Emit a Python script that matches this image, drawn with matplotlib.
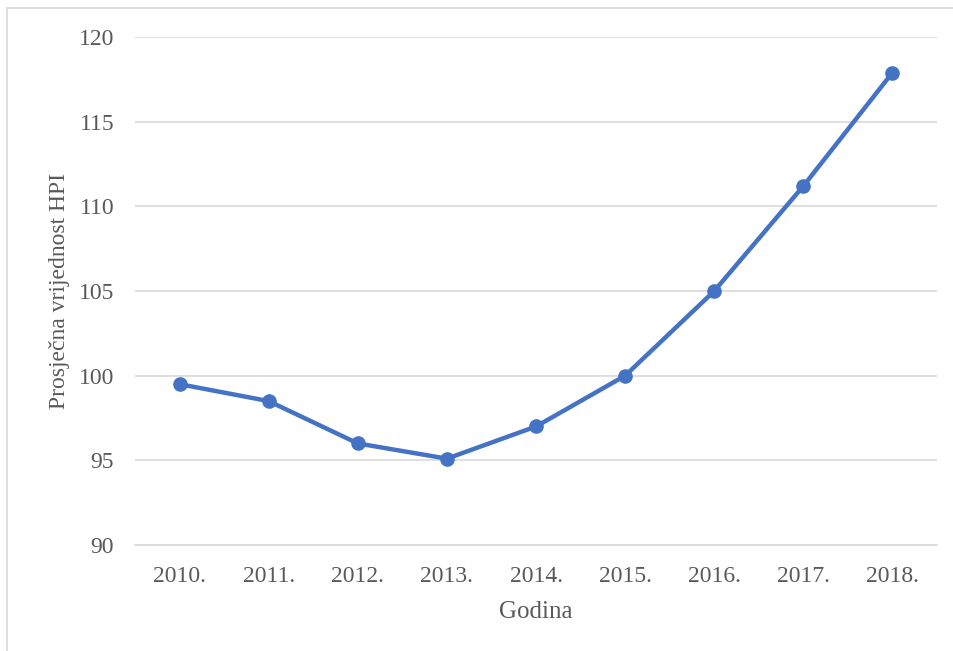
import matplotlib
matplotlib.use("Agg")
import matplotlib.pyplot as plt
from matplotlib.patches import Rectangle

godine = ['2010.', '2011.', '2012.', '2013.', '2014.', '2015.', '2016.', '2017.', '2018.']
hpi = [99.5, 98.5, 96.0, 95.1, 97.0, 100.0, 105.0, 111.2, 117.9]

plt.rcParams['font.family'] = ['Liberation Serif', 'DejaVu Serif']
siva = '#595959'

fig = plt.figure(figsize=(9.54, 6.51), dpi=100)
ax = fig.add_axes([0.1415, 0.1628, 0.8407, 0.7803])

x = range(len(godine))
ax.plot(x, hpi, color='#4472C4', linewidth=3.2, marker='o', markersize=9.5, zorder=3)

ax.set_xlim(-0.5, len(godine) - 0.5)
ax.set_ylim(90, 120)
ax.set_yticks(range(90, 121, 5))
ax.set_xticks(list(x))
ax.set_xticklabels(godine)
ax.grid(axis='y', color='#d9d9d9', linewidth=1.2)
ax.set_axisbelow(True)
for s in ['top', 'right', 'left']:
    ax.spines[s].set_visible(False)
ax.spines['bottom'].set_color('#d9d9d9')
ax.spines['bottom'].set_linewidth(1.2)
ax.tick_params(length=0, labelsize=17, labelcolor=siva, pad=15)
ax.tick_params(axis='x', pad=15)

ax.set_xlabel('Godina', fontsize=18, color=siva, labelpad=10)
ax.set_ylabel('Prosječna vrijednost HPI', fontsize=17, color=siva, labelpad=6)

# okvir grafikona
fig.patches.append(Rectangle((7 / 954, -0.05), 2, 0.05 + 1 - 8 / 651, transform=fig.transFigure,
                             fill=False, edgecolor='#d9d9d9', linewidth=1.2))

fig.savefig('out.png', dpi=100)
